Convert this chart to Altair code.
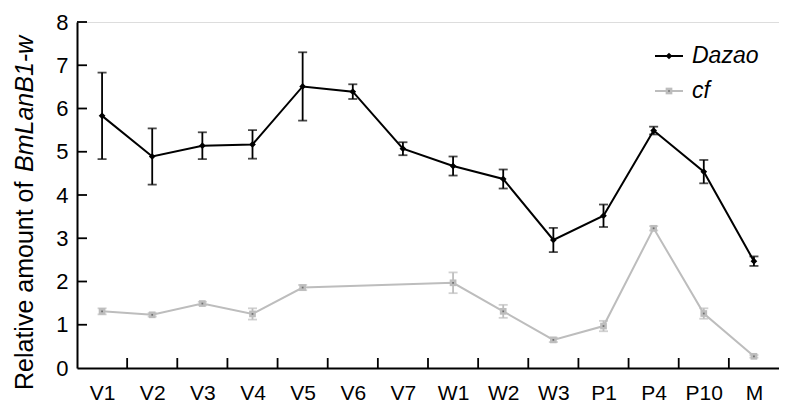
import altair as alt
import pandas as pd

cats = ["V1", "V2", "V3", "V4", "V5", "V6", "V7", "W1", "W2", "W3", "P1", "P4", "P10", "M"]
dazao_mean = [5.83, 4.89, 5.14, 5.17, 6.51, 6.39, 5.07, 4.67, 4.37, 2.96, 3.52, 5.49, 4.54, 2.47]
dazao_err = [1.00, 0.65, 0.31, 0.33, 0.79, 0.17, 0.15, 0.22, 0.22, 0.28, 0.26, 0.09, 0.27, 0.11]
cf_cats = ["V1", "V2", "V3", "V4", "V5", "W1", "W2", "W3", "P1", "P4", "P10", "M"]
cf_mean = [1.31, 1.23, 1.49, 1.25, 1.86, 1.97, 1.31, 0.65, 0.97, 3.23, 1.26, 0.27]
cf_err = [0.07, 0.04, 0.04, 0.13, 0.06, 0.24, 0.15, 0.05, 0.12, 0.05, 0.12, 0.03]
y_ticks = [0, 1, 2, 3, 4, 5, 6, 7, 8]
series = ["Dazao", "cf"]

W, H = 702, 346
FONT = "Liberation Sans"
BLACK = "#000000"
GRAY = "#bdbdbd"

dz = pd.DataFrame({"cat": cats, "v": dazao_mean,
                   "lo": [m - e for m, e in zip(dazao_mean, dazao_err)],
                   "hi": [m + e for m, e in zip(dazao_mean, dazao_err)]})
cf = pd.DataFrame({"cat": cf_cats, "v": cf_mean,
                   "lo": [m - e for m, e in zip(cf_mean, cf_err)],
                   "hi": [m + e for m, e in zip(cf_mean, cf_err)]})

xscale = alt.Scale(type="point", domain=cats, padding=0.5)
yscale = alt.Scale(domain=[0, 8], nice=False)

X = alt.X("cat:N", scale=xscale, sort=cats,
          axis=alt.Axis(title=None, ticks=False, domainColor=BLACK, domainWidth=2,
                        labelFont=FONT, labelFontSize=21, labelColor=BLACK,
                        labelPadding=14, labelAngle=0, grid=False))
Y = alt.Y("v:Q", scale=yscale,
          axis=alt.Axis(title=None, ticks=False, domainColor=BLACK, domainWidth=2,
                        values=y_ticks, labelFont=FONT, labelFontSize=22,
                        labelColor=BLACK, labelPadding=9, grid=False))


def series_layers(df, color, shape, size, lw, dot):
    base = alt.Chart(df)
    xs = alt.X("cat:N", scale=xscale, sort=cats)
    err = base.mark_rule(color=color, strokeWidth=1.8).encode(
        x=xs, y=alt.Y("lo:Q", scale=yscale), y2="hi:Q")
    cap_lo = base.mark_tick(color=color, size=9, thickness=1.8, orient="horizontal").encode(
        x=xs, y=alt.Y("lo:Q", scale=yscale))
    cap_hi = base.mark_tick(color=color, size=9, thickness=1.8, orient="horizontal").encode(
        x=xs, y=alt.Y("hi:Q", scale=yscale))
    line = base.mark_line(color=color, strokeWidth=lw).encode(x=xs, y=alt.Y("v:Q", scale=yscale))
    pts = base.mark_point(shape=shape, filled=True, color=color, size=size, opacity=1).encode(
        x=xs, y=alt.Y("v:Q", scale=yscale))
    layers = [err, cap_lo, cap_hi, line, pts]
    if dot:
        layers.append(base.mark_point(shape="square", filled=True, color="#707070", size=3,
                                      opacity=1).encode(x=xs, y=alt.Y("v:Q", scale=yscale)))
    return layers


axes = alt.Chart(dz).mark_point(opacity=0).encode(x=X, y=Y)

# inward tick marks
xt = pd.DataFrame({"cat": cats[1:]})
step = W / len(cats)
xticks = alt.Chart(xt).mark_rule(color=BLACK, strokeWidth=1.8, xOffset=-step / 2).encode(
    x=alt.X("cat:N", scale=xscale, sort=cats), y=alt.value(H), y2=alt.value(H - 10))
yt = pd.DataFrame({"t": y_ticks[1:]})
yticks = alt.Chart(yt).mark_rule(color=BLACK, strokeWidth=1.8).encode(
    y=alt.Y("t:Q", scale=yscale), x=alt.value(0), x2=alt.value(10))

# legend
leg = pd.DataFrame({"s": series})
lx0, lx1, lxm, ltx = 578, 606, 592, 615
ly = [34, 69]
leg_layers = []
for s, yy, col, shp, sz in [("Dazao", ly[0], BLACK, "diamond", 45), ("cf", ly[1], GRAY, "square", 45)]:
    d = alt.Chart(leg[leg.s == s])
    leg_layers.append(d.mark_rule(color=col, strokeWidth=2).encode(
        x=alt.value(lx0), x2=alt.value(lx1), y=alt.value(yy)))
    leg_layers.append(d.mark_point(shape=shp, filled=True, color=col, size=sz, opacity=1).encode(
        x=alt.value(lxm), y=alt.value(yy)))
    if s == "cf":
        leg_layers.append(d.mark_point(shape="square", filled=True, color="#707070", size=3,
                                       opacity=1).encode(x=alt.value(lxm), y=alt.value(yy)))
    leg_layers.append(d.mark_text(font=FONT, fontSize=23, fontStyle="italic", align="left",
                                  baseline="middle", color=BLACK).encode(
        x=alt.value(ltx), y=alt.value(yy), text="s:N"))

# y-axis title with mixed styles
t1 = pd.DataFrame({"t": ["Relative  amount of"]})
t2 = pd.DataFrame({"t": ["BmLanB1-w"]})
title1 = alt.Chart(t1).mark_text(font=FONT, fontSize=25, angle=270, align="left",
                                 baseline="middle", color=BLACK).encode(
    x=alt.value(-52), y=alt.value(368), text="t:N")
title2 = alt.Chart(t2).mark_text(font=FONT, fontSize=25, angle=270, align="left",
                                 baseline="middle", color=BLACK, fontStyle="italic").encode(
    x=alt.value(-52), y=alt.value(150), text="t:N")

layers = [axes, xticks, yticks]
layers += series_layers(cf, GRAY, "square", 45, 2, True)
layers += series_layers(dz, BLACK, "diamond", 45, 2, False)
layers += leg_layers + [title1, title2]

chart = alt.layer(*layers).properties(
    width=W, height=H,
    padding={"left": 69, "top": 14, "right": 0, "bottom": 38},
    autosize=alt.AutoSizeParams(type="none"),
).configure_view(stroke=None).configure(background="white")

chart.save("out.html", embed_options={"renderer": "svg", "actions": False})
